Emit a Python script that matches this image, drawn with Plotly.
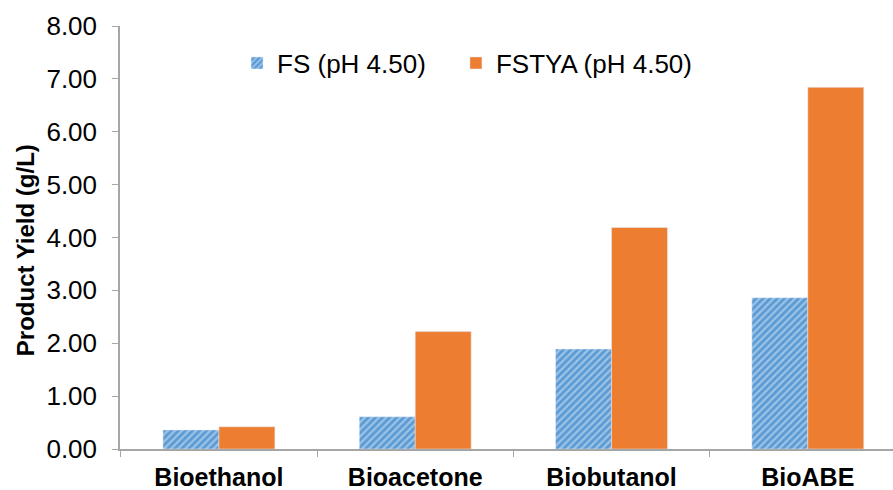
import plotly.graph_objects as go

categories = ["Bioethanol", "Bioacetone", "Biobutanol", "BioABE"]
fs_values = [0.36, 0.61, 1.89, 2.86]
fstya_values = [0.42, 2.22, 4.19, 6.84]
y_ticks = [0, 1, 2, 3, 4, 5, 6, 7, 8]
y_tick_labels = [f"{v:.2f}" for v in y_ticks]
y_title = "Product Yield (g/L)"

font = "Liberation Sans, Arial, sans-serif"

fig = go.Figure()
fig.add_trace(go.Bar(
    x=categories, y=fs_values, name="FS (pH 4.50)", legend="legend",
    marker=dict(color="#5B9BD5",
                pattern=dict(shape="/", fgcolor="#9DC3E6", bgcolor="#5B9BD5",
                             size=5, solidity=0.45, fillmode="replace")),
))
fig.add_trace(go.Bar(
    x=categories, y=fstya_values, name="FSTYA (pH 4.50)", legend="legend2",
    marker=dict(color="#ED7D31"),
))

legend_common = dict(orientation="h", y=0.968, xanchor="left", yanchor="top",
                     font=dict(family=font, size=26, color="black"), itemwidth=30,
                     bgcolor="rgba(0,0,0,0)")

fig.update_layout(
    width=893, height=490,
    margin=dict(l=120, r=0, t=26, b=41, autoexpand=False),
    paper_bgcolor="white", plot_bgcolor="white",
    barmode="group", bargap=0.43, bargroupgap=0,
    font=dict(family=font, size=26, color="black"),
    legend=dict(x=0.1514, **legend_common),
    legend2=dict(x=0.4346, **legend_common),
    showlegend=True,
    annotations=[dict(
        text=y_title, textangle=-90, xref="paper", yref="paper",
        x=-0.1229, y=0.47, xanchor="center", yanchor="middle", showarrow=False,
        font=dict(family=font, size=24, color="black", weight="bold"),
    )],
)
fig.update_xaxes(
    type="category", range=[-0.504, 3.434], automargin=False,
    showline=True, linecolor="#A6A6A6", linewidth=1.5,
    ticks="outside", tickson="boundaries", ticklen=6, tickcolor="#A6A6A6",
    ticklabelstandoff=5,
    tickfont=dict(family=font, size=25, color="black", weight="bold"),
    showgrid=False,
)
fig.update_yaxes(
    range=[0, 8], tickvals=y_ticks, ticktext=y_tick_labels, automargin=False,
    showline=True, linecolor="#A6A6A6", linewidth=1.5,
    ticks="outside", ticklen=6, tickcolor="#A6A6A6", ticklabelstandoff=10,
    tickfont=dict(family=font, size=26, color="black"),
    showgrid=False, zeroline=False,
)

fig.write_html("out.html", config={"displayModeBar": False},
               post_script="document.body.style.margin='0';document.body.style.overflow='hidden';")
